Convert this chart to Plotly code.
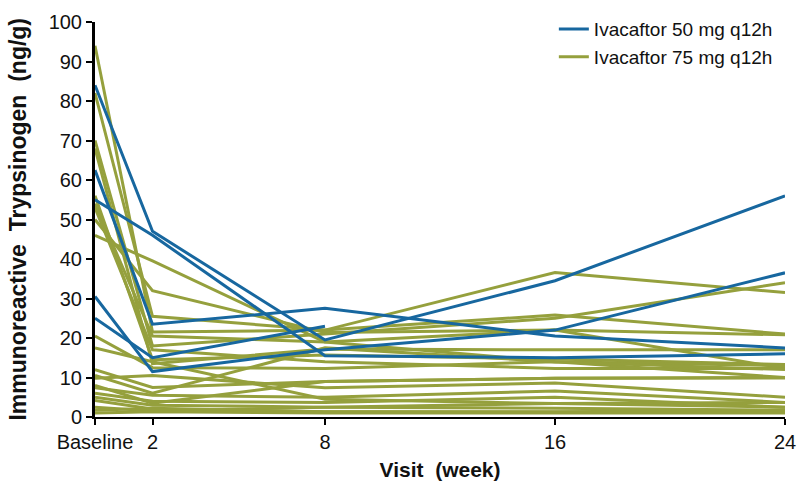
import plotly.graph_objects as go

weeks = [0, 2, 8, 16, 24]
tick_labels = ["Baseline", "2", "8", "16", "24"]

# Ivacaftor 50 mg q12h (one list per patient: Baseline, wk2, wk8, wk16, wk24)
blue_50mg = [
    [84, 47, 19.5, 34.5, 56],
    [55, 46, 15.5, 15, 16],
    [62.5, 23.5, 27.5, 20.5, 17.5],
    [30.5, 11.5, 17, 22, 36.5],
    [25, 15, 23, None, None],
]

# Ivacaftor 75 mg q12h
green_75mg = [
    [94, 21.5, 22, 25.8, 21],
    [82, 25.5, 22, 36.6, 31.5],
    [70, 18, 21, 25, 34],
    [68, 13.5, 17.2, 17, 17],
    [56, 14.5, 15.7, 14.7, 13.3],
    [54, 20.5, 19, 22, 12.3],
    [53, 17, 14, 12.3, 12.3],
    [50, 32, 21.4, 22, 20.8],
    [46, 39.5, 19, 14, 13],
    [20.5, 12.5, 12.3, 14, 10],
    [17.5, 14, 4.5, 3.4, 2.5],
    [12, 7.5, 9, 9.8, 9.9],
    [10.5, 6, 17.5, 14, 12],
    [9.8, 10.5, 7.4, 8.6, 5],
    [8, 3.5, 9, 9.8, 10],
    [7.4, 5.5, 5, 6.6, 3.7],
    [6, 4, 3.7, 5, 2.5],
    [5, 3, 2.5, 2.2, 1.7],
    [4.2, 2, 1.3, 1.3, 1.2],
    [2.5, 1.5, 2.5, 3.4, 3.7],
    [1.7, 2.2, 1.3, 1.3, 1.7],
    [1, 1.3, 1.0, 1.0, 1.0],
]

BLUE = "#17679f"
GREEN = "#95a03d"
FONT = "Liberation Sans, Arial, sans-serif"
TXT = "#111111"

fig = go.Figure()

for i, ys in enumerate(green_75mg):
    fig.add_trace(go.Scatter(
        x=weeks, y=ys, mode="lines",
        line=dict(color=GREEN, width=3),
        name="Ivacaftor 75 mg q12h", legendgroup="g75",
        showlegend=(i == 0), legendrank=2, connectgaps=False,
    ))

for i, ys in enumerate(blue_50mg):
    fig.add_trace(go.Scatter(
        x=weeks, y=ys, mode="lines",
        line=dict(color=BLUE, width=3),
        name="Ivacaftor 50 mg q12h", legendgroup="b50",
        showlegend=(i == 0), legendrank=1, connectgaps=False,
    ))

fig.update_layout(
    width=800, height=486,
    margin=dict(l=95, r=15, t=10, b=69),
    paper_bgcolor="white", plot_bgcolor="white",
    font=dict(family=FONT, size=19, color=TXT),
    legend=dict(
        x=0.665, y=1.03, xanchor="left", yanchor="top",
        bgcolor="rgba(0,0,0,0)", itemwidth=30,
        font=dict(family=FONT, size=19, color=TXT),
        tracegroupgap=0,
    ),
    xaxis=dict(
        range=[0, 24], tickmode="array", tickvals=weeks, ticktext=tick_labels,
        showgrid=False, zeroline=False,
        showline=True, linecolor="black", linewidth=2,
        ticks="outside", ticklen=6, tickwidth=2, tickcolor="black",
        tickfont=dict(family=FONT, size=20, color=TXT),
        title=dict(text="<b>Visit  (week)</b>", font=dict(family=FONT, size=21, color=TXT), standoff=10),
        automargin=False,
    ),
    yaxis=dict(
        range=[0, 100], tickmode="linear", tick0=0, dtick=10,
        showgrid=False, zeroline=False,
        showline=True, linecolor="black", linewidth=3,
        ticks="outside", ticklen=6, tickwidth=2, tickcolor="black",
        tickfont=dict(family=FONT, size=20, color=TXT),
        automargin=False,
    ),
    annotations=[dict(
        text="<b>Immunoreactive  Trypsinogen  (ng/g)</b>",
        xref="paper", yref="paper", x=-0.113, y=0.5,
        xanchor="center", yanchor="middle", textangle=-90, showarrow=False,
        font=dict(family=FONT, size=23, color=TXT),
    )],
)

fig.write_html("out.html", config={"displayModeBar": False},
               post_script="document.body.style.margin='0';")
